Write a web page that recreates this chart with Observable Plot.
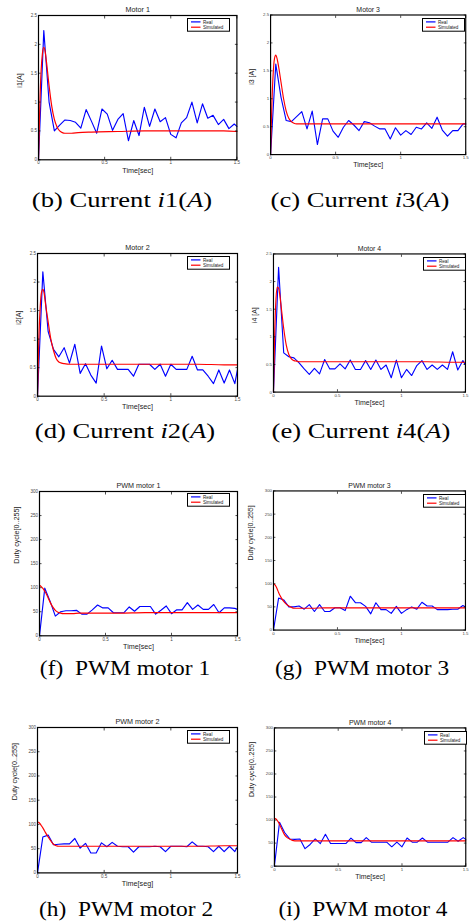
<!DOCTYPE html>
<html>
<head>
<meta charset="utf-8">
<script src="https://cdn.jsdelivr.net/npm/d3@7"></script>
<script src="https://cdn.jsdelivr.net/npm/@observablehq/plot@0.6"></script>
<style>
  html, body { margin: 0; padding: 0; background: #fff; }
  body { width: 473px; height: 924px; overflow: hidden; position: relative; }
  .panel { position: absolute; }
  .cap { position: absolute; white-space: nowrap; font-family: "Liberation Serif", "Times New Roman", serif;
         font-size: 20px; line-height: 20px; color: #000; transform-origin: center; }
</style>
</head>
<body>
<script>
// ---------- data ----------
const timeReal = [0,0.04,0.08,0.12,0.16,0.2,0.24,0.28,0.32,0.36,0.4,0.44,0.48,0.52,0.56,0.6,0.64,0.68,0.72,0.76,0.8,0.84,0.88,0.92,0.96,1.0,1.04,1.08,1.12,1.16,1.2,1.24,1.28,1.32,1.36,1.4,1.44,1.48,1.5];
const timeSim = [0,0.01,0.02,0.03,0.04,0.05,0.06,0.08,0.1,0.12,0.14,0.16,0.18,0.2,0.25,0.3,0.4,0.6,0.8,1.0,1.2,1.4,1.5];

const motor1Real = [0,2.24,1.0,0.5,0.6,0.69,0.68,0.65,0.55,0.87,0.67,0.46,0.88,0.79,0.51,0.70,0.80,0.33,0.68,0.42,0.91,0.58,0.88,0.66,0.73,0.44,0.38,0.64,0.73,1.0,0.64,0.97,0.72,0.77,0.61,0.70,0.54,0.62,0.58];
const motor1Sim  = [0,0.95,1.55,1.85,1.95,1.88,1.7,1.28,0.93,0.7,0.57,0.5,0.47,0.46,0.46,0.47,0.48,0.49,0.5,0.5,0.5,0.5,0.49];
const motor3Real = [0,1.62,1.03,0.61,0.59,0.68,0.77,0.46,0.78,0.18,0.64,0.64,0.42,0.31,0.49,0.61,0.53,0.43,0.59,0.57,0.51,0.46,0.46,0.28,0.48,0.35,0.43,0.36,0.49,0.46,0.57,0.47,0.67,0.44,0.33,0.43,0.43,0.55,0.55];
const motor3Sim  = [0,0.9,1.45,1.72,1.78,1.72,1.6,1.3,1.0,0.78,0.65,0.59,0.56,0.55,0.55,0.55,0.55,0.55,0.55,0.55,0.55,0.55,0.55];
const motor2Real = [0,2.18,1.13,0.82,0.69,0.85,0.58,0.91,0.40,0.57,0.37,0.23,0.88,0.48,0.63,0.47,0.47,0.47,0.35,0.56,0.56,0.56,0.47,0.56,0.35,0.56,0.47,0.47,0.47,0.70,0.46,0.46,0.35,0.22,0.46,0.23,0.46,0.22,0.47];
const motor2Sim  = [0,1.0,1.55,1.82,1.87,1.8,1.62,1.3,1.0,0.8,0.66,0.6,0.58,0.57,0.56,0.56,0.56,0.56,0.56,0.56,0.56,0.55,0.55];
const motor4Real = [0,2.26,0.71,0.64,0.62,0.53,0.42,0.32,0.43,0.33,0.59,0.42,0.42,0.51,0.42,0.58,0.41,0.41,0.57,0.41,0.58,0.41,0.49,0.26,0.58,0.26,0.41,0.30,0.48,0.57,0.41,0.49,0.41,0.49,0.41,0.73,0.40,0.57,0.49];
const motor4Sim  = [0,1.1,1.7,1.9,1.88,1.75,1.55,1.15,0.85,0.68,0.6,0.57,0.56,0.55,0.55,0.55,0.55,0.55,0.55,0.55,0.55,0.54,0.54];

const pwm1Real = [0,99,72,41,50,52,52,53,45,45,54,64,58,58,48,48,48,60,51,61,61,61,45,53,62,46,54,54,69,55,64,55,55,65,48,58,58,57,55];
const pwm1Sim  = [105,103,100,97,93,88,82,70,60,53,49,47,46,46,46,47,47,47,48,48,48,48,48];
const pwm3Real = [0,69,65,50,50,52,45,55,40,55,40,40,48,48,42,73,59,59,51,35,59,44,44,36,51,36,44,50,45,60,52,52,44,44,44,45,45,53,50];
const pwm3Sim  = [100,98,94,88,81,75,70,62,56,52,49,47,47,47,47,47,48,48,48,48,48,48,48];
const pwm2Real = [0,74,78,58,59,60,60,71,51,61,41,41,62,54,63,55,54,54,43,54,54,54,55,54,44,55,55,55,54,64,55,55,54,44,55,44,55,44,54];
const pwm2Sim  = [105,104,101,97,93,88,83,74,66,59,56,55,55,55,55,55,55,55,55,55,55,56,56];
const pwm4Real = [0,95,73,59,58,59,38,47,59,49,69,49,49,49,49,61,51,51,62,52,52,52,52,42,52,42,61,52,52,61,52,52,52,52,52,62,54,62,58];
const pwm4Sim  = [104,103,100,96,91,85,79,68,62,59,56,55,55,55,55,55,55,55,55,55,55,55,55];

const xTicks = [0, 0.5, 1, 1.5];
const currentTicks = [0, 0.5, 1, 1.5, 2, 2.5];
const pwmTicks = [0, 50, 100, 150, 200, 250, 300];
const legendLabels = ["Real", "Simulated"];
const seriesColors = ["#0000ff", "#ff0000"];

// ---------- layout ----------
const panels = [
  {L:38.3, T:15,    R:236.7, B:159.3, title:"Motor 1", ylabel:"i1[A]",  xlabel:"Time[sec]", real:motor1Real, sim:motor1Sim, pwm:false},
  {L:271,  T:15,    R:472.3, B:159,   title:"Motor 3", ylabel:"i3 [A]", xlabel:"Time[sec]", real:motor3Real, sim:motor3Sim, pwm:false},
  {L:36.7, T:253.3, R:236.7, B:396,   title:"Motor 2", ylabel:"i2[A]",  xlabel:"Time[sec]", real:motor2Real, sim:motor2Sim, pwm:false},
  {L:274.3,T:254,   R:473,   B:397,   title:"Motor 4", ylabel:"i4 [A]", xlabel:"Time[sec]", real:motor4Real, sim:motor4Sim, pwm:false},
  {L:38.7, T:490.7, R:236.7, B:635,   title:"PWM motor 1", ylabel:"Duty cycle[0..255]", xlabel:"Time[sec]", real:pwm1Real, sim:pwm1Sim, pwm:true},
  {L:274.3,T:491,   R:473,   B:635,   title:"PWM motor 3", ylabel:"Duty cycle[0..255]", xlabel:"Time[sec]", real:pwm3Real, sim:pwm3Sim, pwm:true},
  {L:36.7, T:727.3, R:236.7, B:872.7, title:"PWM motor 2", ylabel:"Duty cycle[0..255]", xlabel:"Time[seg]", real:pwm2Real, sim:pwm2Sim, pwm:true},
  {L:275,  T:728.3, R:473.5, B:871.7, title:"PWM motor 4", ylabel:"Duty cycle[0..255]", xlabel:"Time[sec]", real:pwm4Real, sim:pwm4Sim, pwm:true}
];

const captions = [
  {cx:121.5, base:206.7, sx:1.33, html:'(b) Current <i>i</i>1(<i>A</i>)'},
  {cx:360,   base:206.7, sx:1.33, html:'(c) Current <i>i</i>3(<i>A</i>)'},
  {cx:125,   base:438,   sx:1.33, html:'(d) Current <i>i</i>2(<i>A</i>)'},
  {cx:361,   base:438,   sx:1.33, html:'(e) Current <i>i</i>4(<i>A</i>)'},
  {cx:125,   base:674.5, sx:1.17, html:'(f)&nbsp; PWM motor 1'},
  {cx:361.5, base:674.5, sx:1.17, html:'(g)&nbsp; PWM motor 3'},
  {cx:125.5, base:916,   sx:1.17, html:'(h)&nbsp; PWM motor 2'},
  {cx:362.5, base:916,   sx:1.17, html:'(i)&nbsp; PWM motor 4'}
];

const fmt = d => String(d);
const empty = () => "";

for (const p of panels) {
  const mL = 30, mR = 8, mT = 16, mB = 22;
  const W = (p.R - p.L) + mL + mR;
  const H = (p.B - p.T) + mT + mB;
  const yTicks = p.pwm ? pwmTicks : currentTicks;
  const yDomain = [yTicks[0], yTicks[yTicks.length - 1]];
  const real = timeReal.map((t, i) => ({t, v: p.real[i]}));
  const sim = timeSim.map((t, i) => ({t, v: p.sim[i]}));
  const chart = Plot.plot({
    width: W, height: H,
    marginLeft: mL, marginRight: mR, marginTop: mT, marginBottom: mB,
    style: {background: "transparent", fontFamily: "'Liberation Sans', Arial, sans-serif", overflow: "visible"},
    x: {domain: [0, 1.5]},
    y: {domain: yDomain},
    marks: [
      Plot.line(real, {x: "t", y: "v", stroke: seriesColors[0], strokeWidth: 1.15}),
      Plot.line(sim, {x: "t", y: "v", stroke: seriesColors[1], strokeWidth: 1.2, curve: "monotone-x"}),
      Plot.frame({stroke: "#000", strokeWidth: 1.2}),
      Plot.axisX({ticks: xTicks, tickSize: -2.5, tickPadding: 4, tickFormat: fmt, fontSize: 4.5, fill: "#444", stroke: "#000", strokeWidth: 0.7, label: null}),
      Plot.axisX({anchor: "top", ticks: xTicks, tickSize: -2.5, tickPadding: 2, tickFormat: empty, label: null, strokeWidth: 0.7}),
      Plot.axisY({ticks: yTicks, tickSize: -2.5, tickPadding: 4, tickFormat: fmt, fontSize: 4.5, fill: "#444", strokeWidth: 0.7, label: null}),
      Plot.axisY({anchor: "right", ticks: yTicks, tickSize: -2.5, tickPadding: 2, tickFormat: empty, label: null, strokeWidth: 0.7}),
      Plot.text([p.title], {frameAnchor: "top", dy: -3.5, lineAnchor: "bottom", fontSize: 7.2, fill: "#222"}),
      Plot.text([p.xlabel], {frameAnchor: "bottom", dy: 8, lineAnchor: "top", fontSize: 7.2, fill: "#222"}),
      Plot.text([p.ylabel], {frameAnchor: "left", dx: p.pwm ? -23 : -19, rotate: -90, fontSize: 7.2, fill: "#222"})
    ]
  });
  const div = document.createElement("div");
  div.className = "panel";
  div.style.left = (p.L - mL) + "px";
  div.style.top = (p.T - mT) + "px";
  div.appendChild(chart);
  document.body.appendChild(div);

  // legend (MATLAB style box in the upper right corner of the axes)
  const lw = 42, lh = 12.7;
  const lg = d3.create("svg").attr("width", lw + 2).attr("height", lh + 2)
    .style("position", "absolute").style("overflow", "visible")
    .style("left", (p.R - 8 - lw) + "px").style("top", (p.T + 2.5) + "px");
  lg.append("rect").attr("x", 0.5).attr("y", 0.5).attr("width", lw).attr("height", lh)
    .attr("fill", "#fff").attr("stroke", "#000").attr("stroke-width", 1);
  legendLabels.forEach((lab, i) => {
    const yy = 3.9 + i * 5.3;
    lg.append("line").attr("x1", 4).attr("x2", 13.5).attr("y1", yy).attr("y2", yy)
      .attr("stroke", seriesColors[i]).attr("stroke-width", 1.2);
    lg.append("text").attr("x", 16).attr("y", yy + 1.6).text(lab)
      .attr("font-size", 4.6).attr("font-family", "'Liberation Sans', Arial, sans-serif").attr("fill", "#222");
  });
  document.body.appendChild(lg.node());
}

for (const c of captions) {
  const d = document.createElement("div");
  d.className = "cap";
  d.innerHTML = c.html;
  d.style.left = c.cx + "px";
  d.style.top = (c.base - 16.75) + "px";
  d.style.transform = `translateX(-50%) scaleX(${c.sx})`;
  document.body.appendChild(d);
}
</script>
</body>
</html>
